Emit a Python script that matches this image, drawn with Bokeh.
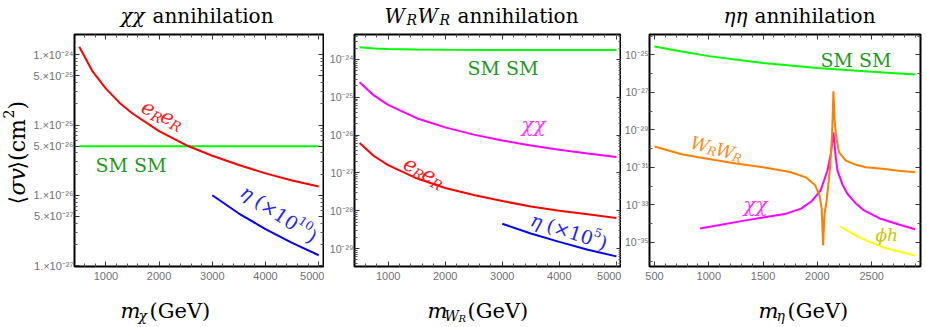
import math
from bokeh.plotting import figure
from bokeh.models import Range1d, FixedTicker, LinearAxis, LogAxis, Label, CustomJSTickFormatter
from bokeh.layouts import row, column
from bokeh.embed import file_html
from bokeh.resources import INLINE

# ---------------- data ----------------
# panel 1 : chi chi annihilation
chi_x_ticks = [1000, 2000, 3000, 4000, 5000]
chi_x_minor = [400, 600, 800, 1200, 1400, 1600, 1800, 2200, 2400, 2600, 2800, 3200, 3400, 3600, 3800,
               4200, 4400, 4600, 4800, 5000]
chi_y_ticks = [1e-27, 5e-27, 1e-26, 5e-26, 1e-25, 5e-25, 1e-24]
chi_y_labels = ["1.×10⁻²⁷", "5.×10⁻²⁷", "1.×10⁻²⁶", "5.×10⁻²⁶", "1.×10⁻²⁵", "5.×10⁻²⁵", "1.×10⁻²⁴"]
chi_y_minor = [2e-27, 3e-27, 4e-27, 6e-27, 7e-27, 8e-27, 9e-27, 2e-26, 3e-26, 4e-26, 6e-26, 7e-26, 8e-26, 9e-26,
               2e-25, 3e-25, 4e-25, 6e-25, 7e-25, 8e-25, 9e-25]

chi_ee_m = [500, 750, 1000, 1250, 1500, 2000, 2500, 3000, 3500, 4000, 4500, 5000]
chi_ee_sv = [1.3e-24, 5.8e-25, 3.3e-25, 2.1e-25, 1.46e-25, 8.2e-26, 5.2e-26, 3.65e-26, 2.7e-26, 2.05e-26, 1.62e-26, 1.33e-26]
chi_sm_m = [500, 5000]
chi_sm_sv = [5e-26, 5e-26]
chi_eta_m = [3000, 3500, 4000, 4500, 5000]
chi_eta_sv = [1.0e-26, 5.5e-27, 3.3e-27, 2.1e-27, 1.4e-27]

# panel 2 : W_R W_R annihilation
w_x_ticks = [1000, 2000, 3000, 4000, 5000]
w_x_minor = chi_x_minor
w_y_ticks = [1e-29, 1e-28, 1e-27, 1e-26, 1e-25, 1e-24]
w_y_labels = ["10⁻²⁹", "10⁻²⁸", "10⁻²⁷", "10⁻²⁶", "10⁻²⁵", "10⁻²⁴"]
w_y_minor = [k * 10.0 ** e for e in range(-30, -23) for k in (2, 3, 4, 5, 6, 7, 8, 9)]

w_sm_m = [500, 750, 1000, 1500, 2000, 3000, 4000, 5000]
w_sm_sv = [2.1e-24, 1.95e-24, 1.88e-24, 1.83e-24, 1.8e-24, 1.78e-24, 1.78e-24, 1.78e-24]
w_chi_m = [500, 750, 1000, 1500, 2000, 2500, 3000, 3500, 4000, 4500, 5000]
w_chi_sv = [2.5e-25, 1.12e-25, 6.3e-26, 2.8e-26, 1.6e-26, 1.03e-26, 7.2e-27, 5.3e-27, 4.1e-27, 3.25e-27, 2.65e-27]
w_ee_m = [500, 750, 1000, 1500, 2000, 2500, 3000, 3500, 4000, 4500, 5000]
w_ee_sv = [6.2e-27, 2.8e-27, 1.6e-27, 7.2e-28, 4.0e-28, 2.6e-28, 1.8e-28, 1.3e-28, 1.0e-28, 8e-29, 6.4e-29]
w_eta_m = [3000, 3500, 4000, 4500, 5000]
w_eta_sv = [4.5e-29, 2.5e-29, 1.5e-29, 9.3e-30, 6.2e-30]

# panel 3 : eta eta annihilation
e_x_ticks = [500, 1000, 1500, 2000, 2500]
e_x_minor = [600, 700, 800, 900, 1100, 1200, 1300, 1400, 1600, 1700, 1800, 1900, 2100, 2200, 2300, 2400,
             2600, 2700, 2800, 2900]
e_y_ticks = [1e-35, 1e-33, 1e-31, 1e-29, 1e-27, 1e-25]
e_y_labels = ["10⁻³⁵", "10⁻³³", "10⁻³¹", "10⁻²⁹", "10⁻²⁷", "10⁻²⁵"]
e_y_minor = [1e-36, 1e-34, 1e-32, 1e-30, 1e-28, 1e-26, 1e-24]

e_sm_m = [500, 750, 1000, 1500, 2000, 2500, 2900]
e_sm_sv = [2.8e-25, 1.5e-25, 8.5e-26, 3.7e-26, 2.0e-26, 1.26e-26, 8.9e-27]
e_ww_m = [500, 750, 1000, 1250, 1500, 1750, 1900, 1980, 2020, 2040, 2053, 2065, 2083, 2114, 2135, 2148,
          2160, 2174, 2200, 2262, 2350, 2445, 2600, 2750, 2900]
e_ww_sv = [1.3e-30, 5.0e-31, 2.8e-31, 1.6e-31, 1.0e-31, 5.6e-32, 2.8e-32, 1.1e-32, 3.2e-33, 6.3e-34, 6.8e-36,
           3e-34, 1.3e-33, 6.3e-32, 4.0e-30, 1.15e-27, 2.5e-29, 4.0e-30, 6.3e-31, 2.3e-31, 1.4e-31, 1.0e-31,
           8.3e-32, 6.6e-32, 5.5e-32]
e_chi_m = [920, 1100, 1300, 1500, 1700, 1850, 1950, 2030, 2093, 2124, 2148, 2170, 2185, 2230, 2277, 2350,
           2430, 2583, 2750, 2900]
e_chi_sv = [5.5e-35, 8.3e-35, 1.35e-34, 2.1e-34, 3.2e-34, 6.3e-34, 1.6e-33, 5.8e-33, 6.8e-32, 5.2e-31,
            7.4e-30, 3.2e-31, 6.8e-32, 1.26e-32, 3.9e-33, 1.26e-33, 5.0e-34, 1.8e-34, 8.9e-35, 5.0e-35]
e_ph_m = [2210, 2300, 2445, 2650, 2900]
e_ph_sv = [7.2e-35, 3.5e-35, 1.26e-35, 4.5e-36, 2.0e-36]

# ---------------- layout constants (page pixels) ----------------
SERIF = "DejaVu Serif"
TICKF = "Liberation Sans"
W = 927
TOP_H = 28          # title strip: y 0..28
MID_H = 258         # plots: y 28..286 (frame 34..266)
BOT_H = 327 - TOP_H - MID_H
FB = 266            # frame bottom
YL_W = 30           # y-label strip width
LIFT = 6            # baseline correction for svg text
GREEN_T = "#1f9a1f"

FMT_JS = """
let best = 0, bd = Infinity;
for (let i = 0; i < tv.length; i++) {
  const d = Math.abs(Math.log10(tick) - Math.log10(tv[i]));
  if (d < bd) { bd = d; best = i; }
}
return tl[best];
"""


def text_fig(width, height):
    f = figure(width=width, height=height, x_range=Range1d(0, width), y_range=Range1d(0, height),
               output_backend="svg", toolbar_location=None, x_axis_location=None, y_axis_location=None,
               min_border=0)
    f.xgrid.visible = False
    f.ygrid.visible = False
    f.outline_line_color = None
    f.background_fill_color = "white"
    f.border_fill_color = "white"
    return f


def make_fig(width, xr, yr, bl, br, xt, xm, yt, ym, ylab, yfs):
    p = figure(width=width, height=MID_H, x_range=Range1d(*xr), y_range=Range1d(*yr), y_axis_type="log",
               output_backend="svg", toolbar_location=None,
               min_border_left=bl, min_border_right=br, min_border_top=6, min_border_bottom=MID_H - 6 - 232)
    p.xgrid.visible = False
    p.ygrid.visible = False
    p.outline_line_color = "black"
    p.outline_line_width = 2
    p.background_fill_color = "white"
    p.border_fill_color = "white"
    xa = p.xaxis[0]
    ya = p.yaxis[0]
    xa.ticker = FixedTicker(ticks=xt, minor_ticks=xm)
    ya.ticker = FixedTicker(ticks=yt, minor_ticks=ym)
    ya.formatter = CustomJSTickFormatter(args=dict(tv=yt, tl=ylab), code=FMT_JS)
    for ax, stand, fs in ((xa, 5, "11px"), (ya, 1, yfs)):
        ax.axis_line_color = None
        ax.major_tick_in = 5
        ax.major_tick_out = 0
        ax.minor_tick_in = 3
        ax.minor_tick_out = 0
        ax.major_tick_line_color = "#333333"
        ax.minor_tick_line_color = "#555555"
        ax.major_label_text_font = TICKF
        ax.major_label_text_font_size = fs
        ax.major_label_text_color = "#707070"
        ax.major_label_standoff = stand
    top = LinearAxis(ticker=FixedTicker(ticks=xt, minor_ticks=xm),
                     formatter=CustomJSTickFormatter(code="return ''"))
    right = LogAxis(ticker=FixedTicker(ticks=yt, minor_ticks=ym),
                    formatter=CustomJSTickFormatter(code="return ''"))
    for ax in (top, right):
        ax.axis_line_color = None
        ax.major_tick_in = 5
        ax.major_tick_out = 0
        ax.minor_tick_in = 3
        ax.minor_tick_out = 0
        ax.major_tick_line_color = "#333333"
        ax.minor_tick_line_color = "#555555"
        ax.major_label_text_font_size = "4px"
        ax.major_label_standoff = 0
    p.add_layout(top, "above")
    p.add_layout(right, "right")
    return p


def put(p, ox, oyb, rx, ry, pieces, ang=0.0):
    """rx, ry: page position of the text baseline start; ox: page x of the frame's left edge,
    oyb: page y of the frame's bottom edge."""
    a = math.radians(ang)
    ca, sa = math.cos(a), math.sin(a)
    sx0 = rx - ox
    sy0 = oyb - ry
    for (t, along, perp, size, style, color) in pieces:
        perp = perp + LIFT
        x = sx0 + along * ca - perp * sa
        y = sy0 + along * sa + perp * ca
        p.add_layout(Label(x=x, y=y, x_units="screen", y_units="screen", text=t, angle=a,
                           text_font=SERIF, text_font_size=f"{size}px", text_font_style=style,
                           text_color=color, text_baseline="alphabetic", text_align="left"))


# ---------------- text strips ----------------
top_fig = text_fig(W, TOP_H)
put(top_fig, 0, TOP_H, 120, 21, [("χχ", 0, 0, 20, "italic", "black"), ("annihilation", 32, 0, 20, "normal", "black")])
put(top_fig, 0, TOP_H, 384, 21, [("W", 0, 0, 20, "italic", "black"), ("R", 22, -4, 14, "italic", "black"),
                                 ("W", 33, 0, 20, "italic", "black"), ("R", 55, -4, 14, "italic", "black"),
                                 ("annihilation", 73, 0, 20, "normal", "black")])
put(top_fig, 0, TOP_H, 723, 21, [("ηη", 0, 0, 20, "italic", "black"), ("annihilation", 31, 0, 20, "normal", "black")])

bot_fig = text_fig(W, BOT_H)
BOT_B = 327
put(bot_fig, 0, BOT_B, 120, 316, [("m", 0, 0, 21, "italic", "black"), ("χ", 18, -5, 14, "italic", "black"),
                                  ("(GeV)", 29, 0, 21, "normal", "black")])
put(bot_fig, 0, BOT_B, 427, 316, [("m", 0, 0, 21, "italic", "black"), ("W", 17, -5, 14, "italic", "black"),
                                  ("R", 31, -8, 10, "italic", "black"), ("(GeV)", 40, 0, 21, "normal", "black")])
put(bot_fig, 0, BOT_B, 758, 316, [("m", 0, 0, 21, "italic", "black"), ("η", 18, -5, 14, "italic", "black"),
                                  ("(GeV)", 29, 0, 21, "normal", "black")])

ylab_fig = text_fig(YL_W, MID_H)
put(ylab_fig, 0, TOP_H + MID_H, 23, 224, [("⟨", 0, 0, 22, "normal", "black"), ("σv", 9, 0, 22, "italic", "black"),
                                          ("⟩(cm", 35, 0, 22, "normal", "black"), ("2", 86, 9, 14, "normal", "black"),
                                          (")", 95, 0, 22, "normal", "black")], ang=90)

# ---------------- panel 1 ----------------
FL1 = 74
p1 = make_fig(294, (410, 5090), (10 ** -27.014, 10 ** -23.711), FL1 - YL_W, 1,
              chi_x_ticks, chi_x_minor, chi_y_ticks, chi_y_minor, chi_y_labels, "11px")
p1.line(chi_sm_m, chi_sm_sv, line_color="#00ff00", line_width=2)
p1.line(chi_ee_m, chi_ee_sv, line_color="#ff0000", line_width=2)
p1.line(chi_eta_m, chi_eta_sv, line_color="#0000ff", line_width=2)

put(p1, FL1, FB, 95, 170, [("SM SM", 0, 0, 19, "normal", GREEN_T)])
put(p1, FL1, FB, 140, 110, [("e", 0, 0, 21, "italic", "#ff1a1a"), ("R", 12, -5, 14, "italic", "#ff1a1a"),
                            ("e", 21, 0, 21, "italic", "#ff1a1a"), ("R", 33, -5, 14, "italic", "#ff1a1a")], ang=-25)
put(p1, FL1, FB, 239, 194, [("η", 0, 0, 19, "italic", "#2222ff"), ("(×10", 17, 0, 19, "normal", "#2222ff"),
                            ("10", 64, 8, 12, "normal", "#2222ff"), (")", 80, 0, 19, "normal", "#2222ff")], ang=-34)

# ---------------- panel 2 ----------------
FL2 = 354
p2 = make_fig(297, (410, 5090), (10 ** -29.476, 10 ** -23.339), 30, 0,
              w_x_ticks, w_x_minor, w_y_ticks, w_y_minor, w_y_labels, "10.5px")
p2.line(w_sm_m, w_sm_sv, line_color="#00ff00", line_width=2)
p2.line(w_chi_m, w_chi_sv, line_color="#ff00ff", line_width=2)
p2.line(w_ee_m, w_ee_sv, line_color="#ff0000", line_width=2)
p2.line(w_eta_m, w_eta_sv, line_color="#0000ff", line_width=2)

put(p2, FL2, FB, 467, 73, [("SM SM", 0, 0, 19, "normal", GREEN_T)])
put(p2, FL2, FB, 521, 130, [("χχ", 0, 0, 20, "italic", "#ff33ff")])
put(p2, FL2, FB, 402, 166, [("e", 0, 0, 21, "italic", "#ff1a1a"), ("R", 12, -5, 14, "italic", "#ff1a1a"),
                            ("e", 21, 0, 21, "italic", "#ff1a1a"), ("R", 33, -5, 14, "italic", "#ff1a1a")], ang=-29)
put(p2, FL2, FB, 529, 224, [("η", 0, 0, 19, "italic", "#2222ff"), ("(×10", 17, 0, 19, "normal", "#2222ff"),
                            ("5", 64, 8, 12, "normal", "#2222ff"), (")", 72, 0, 19, "normal", "#2222ff")], ang=-18)

# ---------------- panel 3 ----------------
FL3 = 648
p3 = make_fig(306, (454, 2950), (10 ** -36.29, 10 ** -23.917), 27, 7,
              e_x_ticks, e_x_minor, e_y_ticks, e_y_minor, e_y_labels, "10.5px")
p3.line(e_sm_m, e_sm_sv, line_color="#00ff00", line_width=2)
p3.line(e_chi_m, e_chi_sv, line_color="#ff00ff", line_width=2)
p3.line(e_ww_m, e_ww_sv, line_color="#ff8000", line_width=2)
p3.line(e_ph_m, e_ph_sv, line_color="#ffff00", line_width=2)

put(p3, FL3, FB, 819, 65, [("SM SM", 0, 0, 19, "normal", GREEN_T)])
put(p3, FL3, FB, 688, 147, [("W", 0, 0, 18, "italic", "#ff8c1a"), ("R", 18, -4, 12, "italic", "#ff8c1a"),
                            ("W", 26, 0, 18, "italic", "#ff8c1a"), ("R", 44, -4, 12, "italic", "#ff8c1a")], ang=-15)
put(p3, FL3, FB, 742, 210, [("χχ", 0, 0, 20, "italic", "#ff33ff")])
put(p3, FL3, FB, 874, 240, [("ϕh", 0, 0, 17, "italic", "#c8c800")])

layout = column(top_fig, row(ylab_fig, p1, p2, p3), bot_fig)
open("out.html", "w").write(file_html(layout, INLINE))
